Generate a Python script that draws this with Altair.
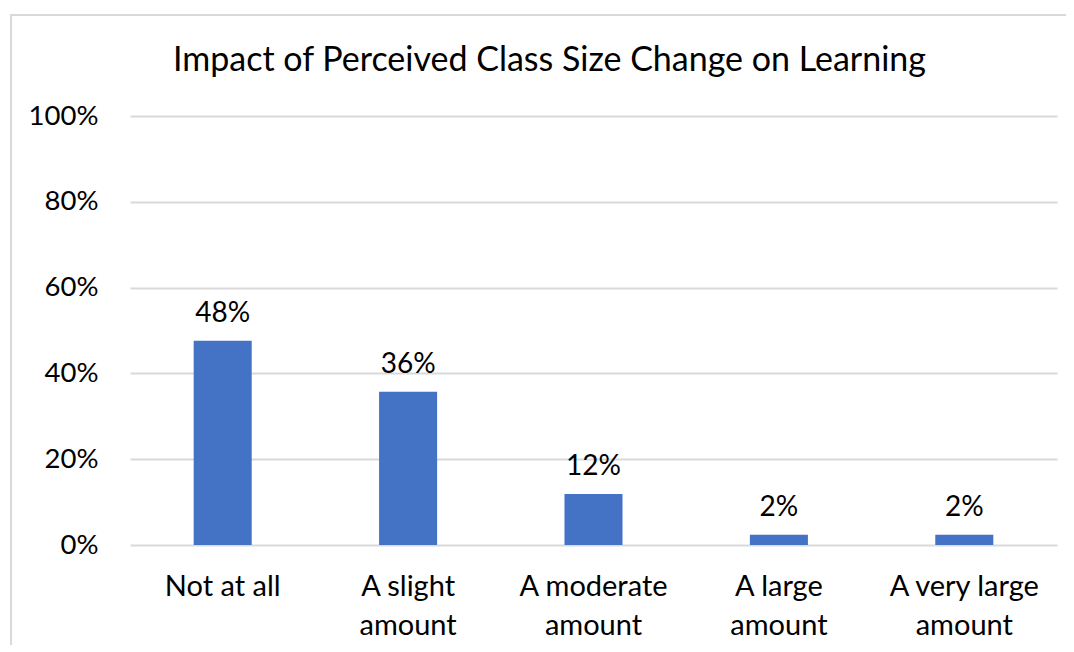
import altair as alt
import pandas as pd

title_text = "Impact of Perceived Class Size Change on Learning"
categories = ["Not at all", "A slight|amount", "A moderate|amount", "A large|amount", "A very large|amount"]
values = [0.476, 0.357, 0.119, 0.024, 0.024]
y_ticks = [0, 0.2, 0.4, 0.6, 0.8, 1.0]

df = pd.DataFrame({"cat": categories, "val": values})

W, H = 927, 429
FONT = "Lato"

x = alt.X("cat:N", sort=categories, title=None,
          scale=alt.Scale(paddingInner=0.687, paddingOuter=0.3435),
          axis=alt.Axis(labelExpr="split(datum.label, '|')", labelAngle=0,
                        labelFontSize=29, labelFont=FONT, labelColor="#000000",
                        labelLineHeight=39, labelPadding=27, ticks=False,
                        domain=False, grid=False, labelBaseline="top"))
y = alt.Y("val:Q", title=None,
          scale=alt.Scale(domain=[0, 1], nice=False),
          axis=alt.Axis(values=y_ticks, format=".0%", labelFontSize=27.5,
                        labelFont=FONT, labelColor="#000000", labelPadding=32,
                        ticks=False, domain=False, gridColor="#d9d9d9",
                        gridWidth=2))

bars = alt.Chart(df).mark_bar(color="#4472C4").encode(x=x, y=y)
labels = alt.Chart(df).mark_text(font=FONT, fontSize=28, color="#000000",
                                 baseline="alphabetic", dy=-19).encode(
    x=alt.X("cat:N", sort=categories), y="val:Q",
    text=alt.Text("val:Q", format=".0%"))

border = alt.Chart(df).mark_rect(fill=None, stroke="#d9d9d9", strokeWidth=2,
                                 clip=False).encode(
    x=alt.value(-119), x2=alt.value(W + 40),
    y=alt.value(-101), y2=alt.value(H + 200))

title = alt.Chart(pd.DataFrame({"t": [title_text]})).mark_text(
    font=FONT, fontSize=34, color="#000000", align="center",
    baseline="alphabetic").encode(
    text="t:N", x=alt.value(W / 2 - 44), y=alt.value(-45))

chart = alt.layer(border, bars, labels, title).properties(
    width=W, height=H,
    autosize=alt.AutoSizeParams(type="none"),
    padding={"left": 122, "top": 108, "right": 9, "bottom": 100},
).configure_view(stroke=None)

chart.save("out.html", embed_options={"renderer": "svg", "actions": False})
